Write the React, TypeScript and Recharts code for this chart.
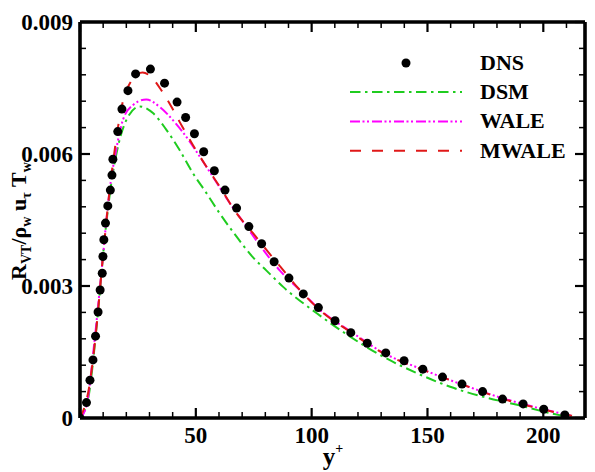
import React from "react";
import {
  ComposedChart, Line, Scatter, XAxis, YAxis, Legend,
} from "recharts";

const FONT = "'Liberation Serif', 'Times New Roman', serif";

// DNS points (y+, R_vT / rho_w u_tau T_w)
const dnsX = [0, 2.8, 4.3, 5.6, 6.7, 7.8, 8.7, 9.6, 9.9, 10.3, 11.0, 12.0, 13.1, 13.8, 14.2, 16.3, 18.1, 20.7, 24.0, 30.4, 36.5, 41.9, 45.6, 49.4, 53.4, 58.0, 62.6, 67.6, 72.9, 78.4, 83.8, 90.2, 96.4, 102.9, 110.1, 116.9, 124.0, 132.0, 139.9, 148.0, 156.5, 164.9, 173.8, 182.4, 191.3, 200.2, 209.3];
const dnsY = [0, 0.00035, 0.00086, 0.00132, 0.00186, 0.00241, 0.00291, 0.00329, 0.00367, 0.00405, 0.00443, 0.00482, 0.00518, 0.00552, 0.00588, 0.00651, 0.00702, 0.00744, 0.00782, 0.00793, 0.00761, 0.00718, 0.00683, 0.00646, 0.00605, 0.00562, 0.00518, 0.00477, 0.00435, 0.00396, 0.00355, 0.00318, 0.00282, 0.00251, 0.00221, 0.00194, 0.0017, 0.00148, 0.0013, 0.00111, 0.00093, 0.00077, 0.0006, 0.00043, 0.00032, 0.0002, 0.00007];

const dsmX = [0, 3.4, 7.7, 10.6, 13.5, 16.4, 20.0, 25.7, 31.5, 37.3, 43.0, 48.8, 54.6, 60.3, 67.6, 74.7, 80.5, 87.7, 102.2, 116.6, 131, 145.4, 159.8, 174.2, 188.7, 203, 210.3];
const dsmY = [0, 0.00041, 0.00238, 0.00405, 0.00533, 0.00617, 0.00677, 0.00708, 0.00693, 0.00655, 0.00609, 0.00556, 0.00511, 0.00465, 0.00412, 0.00365, 0.00335, 0.00298, 0.00238, 0.00185, 0.00139, 0.00102, 0.00071, 0.00048, 0.0003, 0.00011, 0.00003];

const waleX = [0, 2.7, 6.3, 9.2, 12.8, 15.6, 18.5, 22.8, 28.6, 34.4, 40.1, 45.9, 51.7, 57.4, 64.7, 71.9, 79.1, 86.3, 95, 104, 117, 131, 148, 165, 183, 200, 212];
const waleY = [0, 0.00026, 0.00177, 0.00329, 0.00518, 0.00609, 0.00677, 0.00711, 0.00724, 0.00707, 0.00677, 0.00639, 0.00594, 0.00548, 0.00488, 0.00435, 0.00382, 0.00335, 0.0029, 0.00244, 0.00196, 0.00148, 0.0011, 0.00076, 0.00044, 0.0002, 0.00005];

const mwaleX = [0, 4.1, 7.0, 9.9, 12.8, 15.0, 17.0, 19.0, 21.5, 24.0, 27.0, 30.8, 35.1, 39.4, 43.0, 48.8, 54.6, 60.3, 67.6, 74.7, 80.5, 86.3, 94.9, 103.6, 116.6, 131, 148.3, 165.6, 182.9, 200.2, 212.4];
const mwaleY = [0, 0.00075, 0.002, 0.00367, 0.00518, 0.0061, 0.0068, 0.0073, 0.0076, 0.00778, 0.00785, 0.00775, 0.00745, 0.00708, 0.00673, 0.0062, 0.00571, 0.00526, 0.00465, 0.0042, 0.00382, 0.00345, 0.00291, 0.00245, 0.00196, 0.00147, 0.00109, 0.00075, 0.00043, 0.00019, 0.00005];

const xTicks = [0, 10, 20, 30, 40, 50, 60, 70, 80, 90, 100, 110, 120, 130, 140, 150, 160, 170, 180, 190, 200, 210];
const xLabels: Record<number, string> = { 50: "50", 100: "100", 150: "150", 200: "200" };
const yTicks = [0, 0.0006, 0.0012, 0.0018, 0.0024, 0.003, 0.0036, 0.0042, 0.0048, 0.0054, 0.006, 0.0066, 0.0072, 0.0078, 0.0084, 0.009];
const yLabels = ["0", "0.003", "0.006", "0.009"];

const zip = (xs: number[], ys: number[]) => xs.map((x, i) => ({ x, y: ys[i] }));

const series = [
  { name: "DSM", data: zip(dsmX, dsmY), color: "#1fcc1f", dash: "10.5 4.5 2.5 4.5" },
  { name: "WALE", data: zip(waleX, waleY), color: "#ff00ff", dash: "10 2.5 2 2.5 2 3" },
  { name: "MWALE", data: zip(mwaleX, mwaleY), color: "#e01818", dash: "11 11" },
];
const dns = zip(dnsX, dnsY);

const textStyle = { fontFamily: FONT, fontWeight: "bold" as const, fill: "#000" };

const isMajorY = (v: number) => Math.abs(v / 0.003 - Math.round(v / 0.003)) < 1e-6;
const yLabelFor = (v: number) => yLabels[Math.round(v / 0.003)];

const BottomTick = ({ x, y, payload }: any) => {
  const v = payload.value;
  const major = v % 50 === 0;
  return (
    <g>
      <line x1={x} x2={x} y1={y} y2={y - (major ? 10 : 6)} stroke="#000" strokeWidth={major ? 2.2 : 1.5} />
      {xLabels[v] && (
        <text x={x} y={y + 25} textAnchor="middle" fontSize={23} {...textStyle}>{xLabels[v]}</text>
      )}
    </g>
  );
};

const TopTick = ({ x, y, payload }: any) => {
  const major = payload.value % 50 === 0;
  return <line x1={x} x2={x} y1={y} y2={y + (major ? 10 : 6)} stroke="#000" strokeWidth={major ? 2.2 : 1.5} />;
};

const LeftTick = ({ x, y, payload }: any) => {
  const v = payload.value;
  const major = isMajorY(v);
  return (
    <g>
      <line x1={x} x2={x + (major ? 10 : 6)} y1={y} y2={y} stroke="#000" strokeWidth={major ? 2.2 : 1.5} />
      {major && (
        <text x={x - 7} y={y + 8} textAnchor="end" fontSize={23} {...textStyle}>{yLabelFor(v)}</text>
      )}
    </g>
  );
};

const RightTick = ({ x, y, payload }: any) => {
  const major = isMajorY(payload.value);
  return <line x1={x} x2={x - (major ? 10 : 6)} y1={y} y2={y} stroke="#000" strokeWidth={major ? 2.2 : 1.5} />;
};

const XTitle = () => (
  <text x={333} y={465} textAnchor="middle" {...textStyle} fontSize={25}>
    y<tspan fontSize={14} dy={-12}>+</tspan>
  </text>
);

const YTitle = () => (
  <text transform="translate(26,221) rotate(-90)" x={0} y={0} textAnchor="middle" {...textStyle} fontSize={22}>
    R<tspan fontSize={14} dy={5}>VT</tspan>
    <tspan dy={-5}>/ρ</tspan>
    <tspan fontSize={14} dy={5}>w</tspan>
    <tspan dy={-5}> u</tspan>
    <tspan fontSize={14} dy={5}>τ</tspan>
    <tspan dy={-5}> T</tspan>
    <tspan fontSize={14} dy={5}>w</tspan>
  </text>
);

const renderLegend = () => (
  <svg width={250} height={130} style={{ display: "block" }}>
    <circle cx={66} cy={23} r={4.5} fill="#000" />
    <text x={140} y={30} fontSize={22} {...textStyle}>DNS</text>
    {series.map((s, i) => (
      <g key={s.name}>
        <line x1={10} x2={122} y1={52 + 29.4 * i} y2={52 + 29.4 * i} stroke={s.color} strokeWidth={2} strokeDasharray={s.dash} />
        <text x={140} y={59 + 29.4 * i} fontSize={22} {...textStyle}>{s.name}</text>
      </g>
    ))}
  </svg>
);

const axisLine = { stroke: "#000", strokeWidth: 3.6 };

export default function App() {
  return (
    <div style={{ position: "absolute", left: 0, top: 0, background: "#fff" }}>
      <ComposedChart width={595} height={472} margin={{ top: 21, right: 9, bottom: 0, left: 0 }}>
        <XAxis
          xAxisId="b" type="number" dataKey="x" domain={[0, 218]} ticks={xTicks} interval={0}
          allowDataOverflow height={54} axisLine={axisLine} tickLine={false} tickSize={0} tickMargin={0}
          tick={<BottomTick />} label={{ content: XTitle }}
        />
        <XAxis
          xAxisId="t" orientation="top" type="number" dataKey="x" domain={[0, 218]} ticks={xTicks} interval={0}
          allowDataOverflow height={1} axisLine={axisLine} tickLine={false} tickSize={0} tickMargin={0}
          tick={<TopTick />}
        />
        <YAxis
          yAxisId="l" type="number" dataKey="y" domain={[0, 0.009]} ticks={yTicks} interval={0}
          allowDataOverflow width={80} axisLine={axisLine} tickLine={false} tickSize={0} tickMargin={0}
          tick={<LeftTick />} label={{ content: YTitle }}
        />
        <YAxis
          yAxisId="r" orientation="right" type="number" dataKey="y" domain={[0, 0.009]} ticks={yTicks} interval={0}
          allowDataOverflow width={1} axisLine={axisLine} tickLine={false} tickSize={0} tickMargin={0}
          tick={<RightTick />}
        />
        {series.map((s) => (
          <Line
            key={s.name} xAxisId="b" yAxisId="l" data={s.data} dataKey="y" name={s.name}
            type="monotone" stroke={s.color} strokeWidth={2} strokeDasharray={s.dash}
            dot={false} activeDot={false} isAnimationActive={false}
          />
        ))}
        <Scatter
          xAxisId="b" yAxisId="l" data={dns} dataKey="y" name="DNS" isAnimationActive={false}
          shape={(p: any) => <circle cx={p.cx} cy={p.cy} r={4.5} fill="#000" />}
        />
        <Legend
          layout="vertical" align="center" verticalAlign="middle" content={renderLegend}
          wrapperStyle={{ left: 340, top: 40, width: 250 }}
        />
      </ComposedChart>
    </div>
  );
}
